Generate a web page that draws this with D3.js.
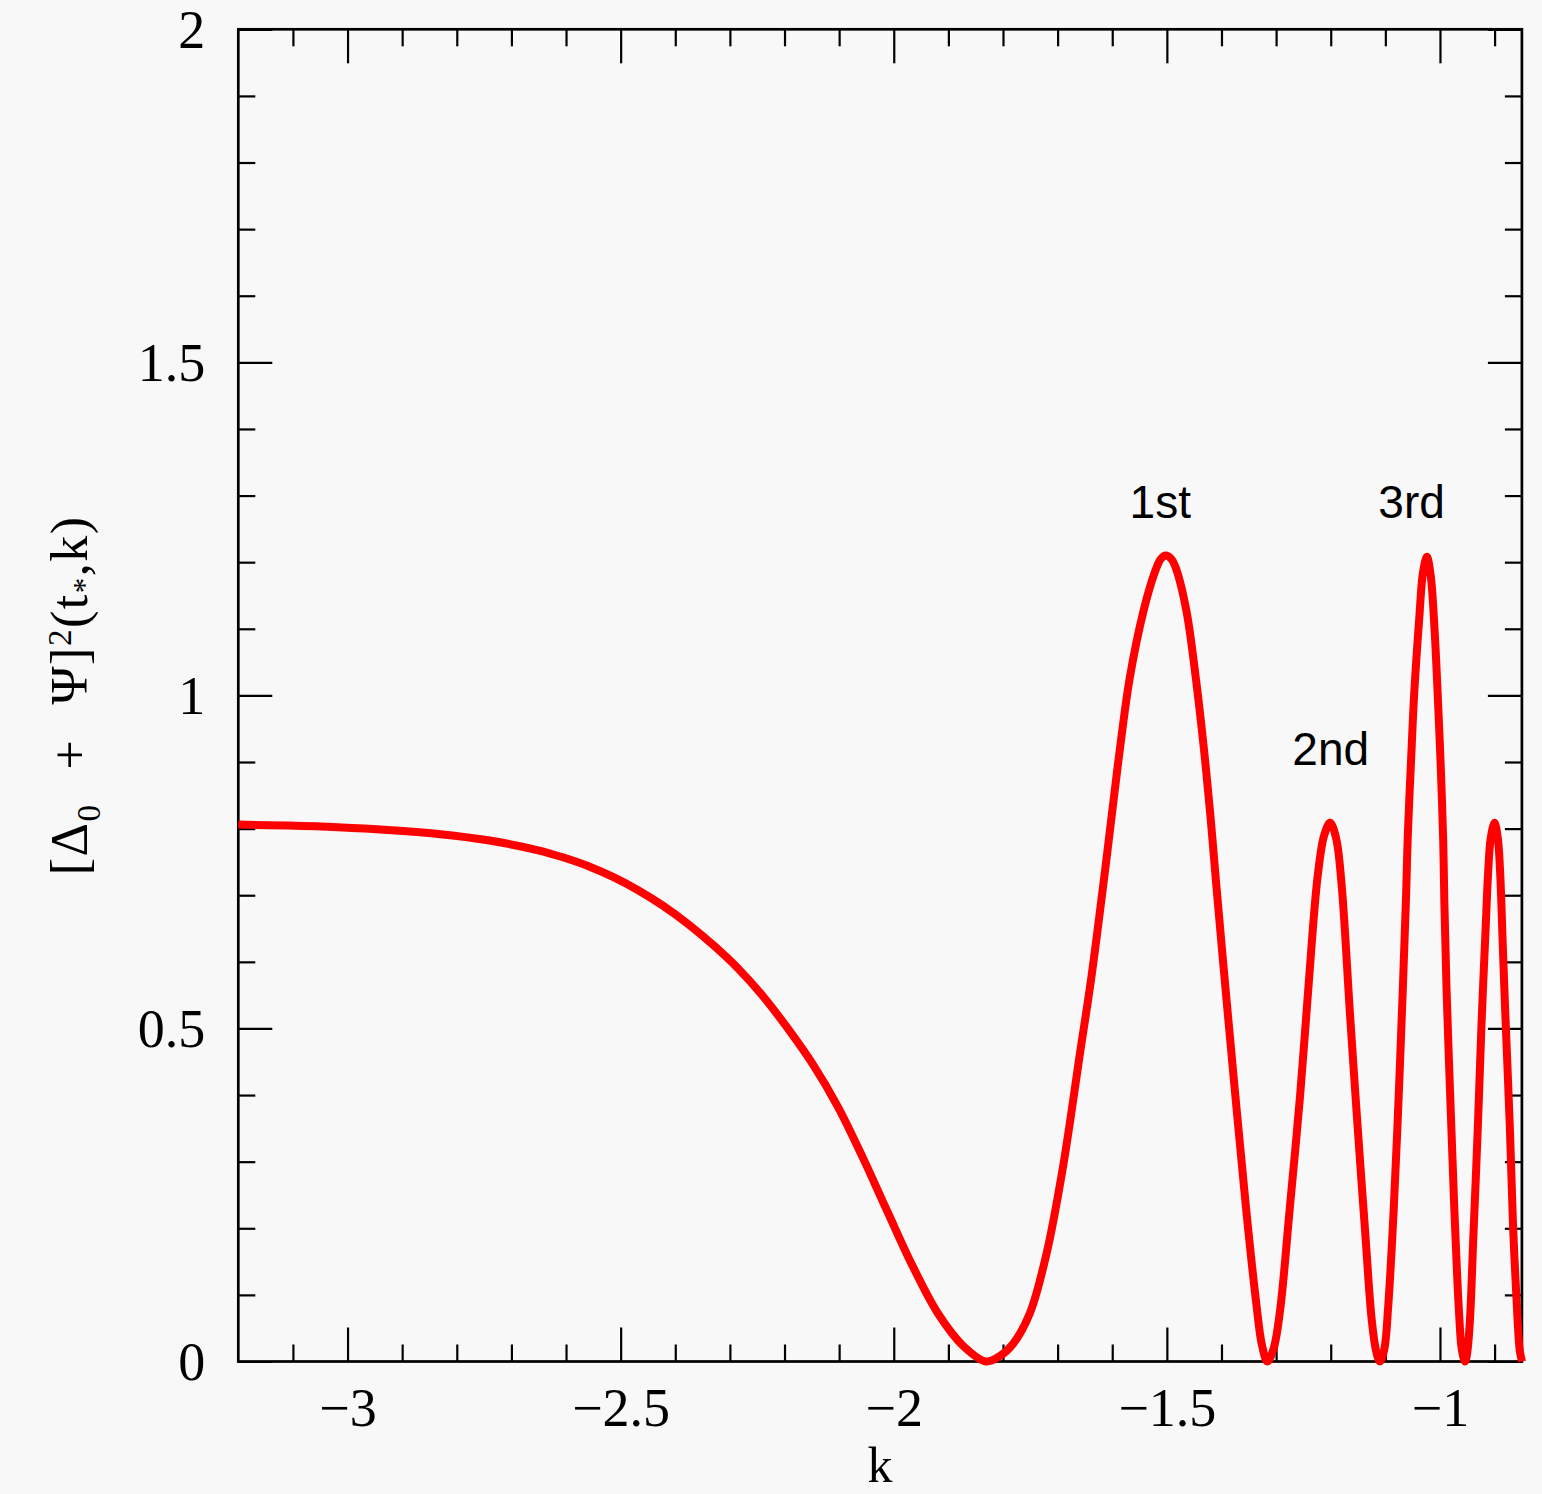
<!DOCTYPE html>
<html>
<head>
<meta charset="utf-8">
<script src="https://cdn.jsdelivr.net/npm/d3@7"></script>
<style>
  html, body { margin: 0; padding: 0; background: #f8f8f8; }
  svg { display: block; }
</style>
</head>
<body>
<svg id="chart" width="1542" height="1494"></svg>
<script>
// ---------- data (log10 k, [Δ0+Ψ]^2) ----------
const logk = [
  -3.200, -3.109, -3.018, -2.926, -2.834, -2.743, -2.651, -2.606, -2.560, -2.514,
  -2.468, -2.422, -2.377, -2.331, -2.285, -2.239, -2.194, -2.148, -2.102, -2.056,
  -2.011, -1.965, -1.919, -1.873, -1.831, -1.806, -1.781, -1.751, -1.720, -1.690,
  -1.659, -1.638, -1.613, -1.600, -1.585, -1.568, -1.543, -1.522, -1.511, -1.502,
  -1.492, -1.483, -1.464, -1.447, -1.433, -1.421, -1.410, -1.391, -1.373, -1.355,
  -1.336, -1.326, -1.316, -1.305, -1.293, -1.275, -1.256, -1.241, -1.224, -1.212,
  -1.201, -1.190, -1.180, -1.165, -1.152, -1.137, -1.125, -1.117, -1.110, -1.102,
  -1.095, -1.085, -1.076, -1.068, -1.062, -1.059, -1.053, -1.047, -1.038, -1.031,
  -1.024, -1.017, -1.010, -1.003, -0.998, -0.994, -0.992, -0.988, -0.980, -0.973,
  -0.965, -0.960, -0.954, -0.950, -0.945, -0.939, -0.931, -0.924, -0.916, -0.912,
  -0.907, -0.900, -0.894, -0.890, -0.885, -0.881, -0.872, -0.866, -0.858, -0.854,
  -0.850
];
const power = [
  0.806, 0.8045, 0.802, 0.798, 0.792, 0.7825, 0.7675, 0.757, 0.744, 0.7275,
  0.7075, 0.684, 0.657, 0.6255, 0.590, 0.548, 0.500, 0.446, 0.382, 0.305,
  0.224, 0.1425, 0.072, 0.0235, 0.000, 0.008, 0.027, 0.072, 0.163, 0.293,
  0.463, 0.578, 0.738, 0.826, 0.926, 1.026, 1.126, 1.185, 1.205, 1.210,
  1.205, 1.190, 1.126, 1.026, 0.926, 0.826, 0.720, 0.545, 0.385, 0.230,
  0.085, 0.025, 0.000, 0.018, 0.075, 0.230, 0.400, 0.560, 0.728, 0.790,
  0.809, 0.785, 0.715, 0.525, 0.367, 0.195, 0.063, 0.016, 0.000, 0.018,
  0.080, 0.223, 0.390, 0.560, 0.700, 0.788, 0.901, 1.005, 1.115, 1.185,
  1.208, 1.180, 1.100, 0.980, 0.880, 0.780, 0.690, 0.560, 0.370, 0.215,
  0.072, 0.018, 0.000, 0.014, 0.064, 0.185, 0.345, 0.505, 0.658, 0.731,
  0.786, 0.809, 0.785, 0.737, 0.625, 0.535, 0.350, 0.200, 0.064, 0.017,
  0.000
];

const xDomain = [-3.2, -0.85];
const yDomain = [0, 2];
const xMajorTicks = [-3, -2.5, -2, -1.5, -1];
const xMinorTicks = [-3.1, -2.9, -2.8, -2.7, -2.6, -2.4, -2.3, -2.2, -2.1,
                     -1.9, -1.8, -1.7, -1.6, -1.4, -1.3, -1.2, -1.1, -0.9];
const yMajorTicks = [0, 0.5, 1, 1.5, 2];
const yMinorTicks = [0.1, 0.2, 0.3, 0.4, 0.6, 0.7, 0.8, 0.9,
                     1.1, 1.2, 1.3, 1.4, 1.6, 1.7, 1.8, 1.9];

const peakLabels = ["1st", "2nd", "3rd"];
const peakLabelK = [-1.512, -1.200, -1.052];
const peakLabelY = [1.2665, 0.8957, 1.2665];

// ---------- layout ----------
const W = 1542, H = 1494;
const plot = { left: 238.3, right: 1521.9, top: 29.3, bottom: 1361.5 };
const svg = d3.select("#chart");

svg.append("rect").attr("width", W).attr("height", H).attr("fill", "#f8f8f8");

const x = d3.scaleLinear().domain(xDomain).range([plot.left, plot.right]);
const y = d3.scaleLinear().domain(yDomain).range([plot.bottom, plot.top]);

const fmt = d3.format("~g");
const serif = "'Liberation Serif', 'Times New Roman', serif";
const MAJ = 34, MIN = 17;

function styleAxis(g) {
  g.select(".domain").remove();
  g.selectAll(".tick line").attr("stroke", "#000").attr("stroke-width", 2.2);
}

// bottom
const gb = svg.append("g").attr("transform", `translate(0,${plot.bottom})`);
gb.append("g").call(d3.axisBottom(x).tickValues(xMinorTicks).tickSize(-MIN).tickFormat("")).call(styleAxis);
const gbMaj = gb.append("g").call(d3.axisBottom(x).tickValues(xMajorTicks).tickSize(-MAJ).tickFormat(fmt)).call(styleAxis);
gbMaj.selectAll("text")
  .attr("y", 64.5).attr("dy", null)
  .attr("font-family", serif).attr("font-size", 54).attr("fill", "#000");

// top
const gt = svg.append("g").attr("transform", `translate(0,${plot.top})`);
gt.append("g").call(d3.axisTop(x).tickValues(xMinorTicks).tickSize(-MIN).tickFormat("")).call(styleAxis);
gt.append("g").call(d3.axisTop(x).tickValues(xMajorTicks).tickSize(-MAJ).tickFormat("")).call(styleAxis);

// left
const gl = svg.append("g").attr("transform", `translate(${plot.left},0)`);
gl.append("g").call(d3.axisLeft(y).tickValues(yMinorTicks).tickSize(-MIN).tickFormat("")).call(styleAxis);
const glMaj = gl.append("g").call(d3.axisLeft(y).tickValues(yMajorTicks).tickSize(-MAJ).tickFormat(fmt)).call(styleAxis);
glMaj.selectAll("text")
  .attr("x", -33).attr("dy", "0.33em")
  .attr("font-family", serif).attr("font-size", 54).attr("fill", "#000");

// right
const gr = svg.append("g").attr("transform", `translate(${plot.right},0)`);
gr.append("g").call(d3.axisRight(y).tickValues(yMinorTicks).tickSize(-MIN).tickFormat("")).call(styleAxis);
gr.append("g").call(d3.axisRight(y).tickValues(yMajorTicks).tickSize(-MAJ).tickFormat("")).call(styleAxis);

// frame
svg.append("rect")
  .attr("x", plot.left).attr("y", plot.top)
  .attr("width", plot.right - plot.left).attr("height", plot.bottom - plot.top)
  .attr("fill", "none").attr("stroke", "#000").attr("stroke-width", 2.7);

// axis titles
svg.append("text")
  .attr("x", (plot.left + plot.right) / 2).attr("y", 1482)
  .attr("text-anchor", "middle")
  .attr("font-family", serif).attr("font-size", 50).attr("fill", "#000")
  .text("k");

const yt = svg.append("text")
  .attr("transform", `translate(87,${(plot.top + plot.bottom) / 2}) rotate(-90)`)
  .attr("text-anchor", "middle")
  .attr("font-family", serif).attr("font-size", 52)
  .attr("letter-spacing", 1.5).attr("fill", "#000");
yt.append("tspan").text("[Δ");
yt.append("tspan").attr("font-size", 33).attr("dy", 13).text("0");
yt.append("tspan").attr("dy", -13).attr("dx", 34).text("+");
yt.append("tspan").attr("dx", 34).text("Ψ]");
yt.append("tspan").attr("font-size", 33).attr("dy", -16).text("2");
yt.append("tspan").attr("dy", 16).text("(t");
yt.append("tspan").attr("font-size", 31).attr("dy", 8).text("*");
yt.append("tspan").attr("dy", -8).text(",k)");

// curve
const pts = d3.zip(logk, power);
const line = d3.line().x(d => x(d[0])).y(d => y(d[1])).curve(d3.curveCatmullRom.alpha(0.5));
svg.append("path")
  .datum(pts)
  .attr("d", line)
  .attr("fill", "none")
  .attr("stroke", "#ff0000")
  .attr("stroke-width", 8)
  .attr("stroke-linejoin", "round");

// peak annotations
svg.append("g").selectAll("text")
  .data(peakLabels)
  .join("text")
  .attr("x", (d, i) => x(peakLabelK[i]))
  .attr("y", (d, i) => y(peakLabelY[i]))
  .attr("text-anchor", "middle")
  .attr("font-family", "'Liberation Sans', Arial, Helvetica, sans-serif")
  .attr("font-size", 46)
  .attr("fill", "#000")
  .text(d => d);
</script>
</body>
</html>
